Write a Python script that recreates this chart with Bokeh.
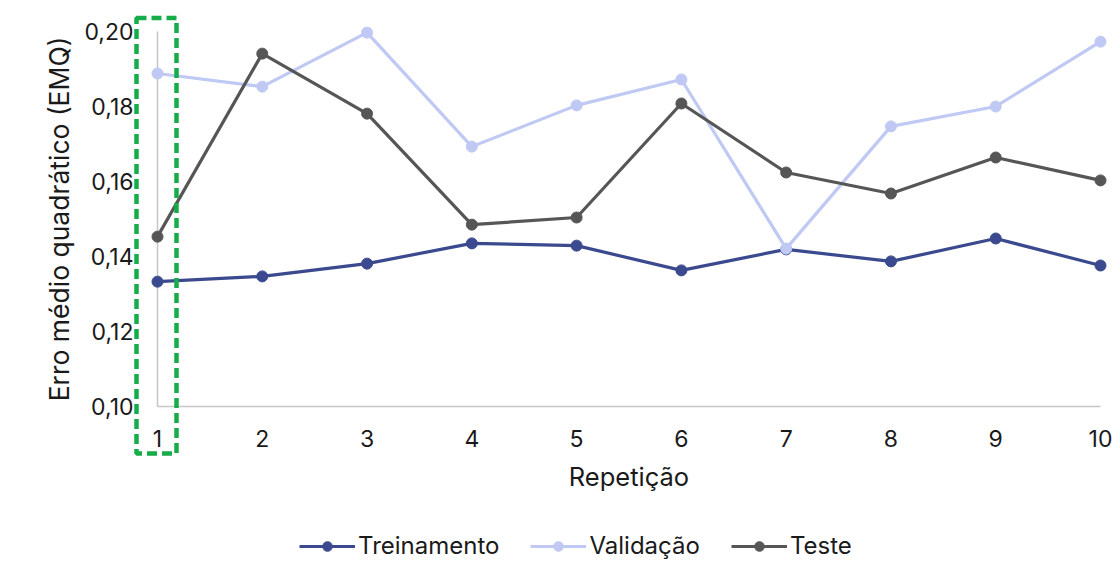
import math
from bokeh.plotting import figure
from bokeh.models import Range1d, Legend, LegendItem, BoxAnnotation
from bokeh.core.properties import value
from bokeh.embed import file_html
from bokeh.resources import INLINE

repeticao = [1, 2, 3, 4, 5, 6, 7, 8, 9, 10]
treinamento = [0.1333, 0.1347, 0.1381, 0.1435, 0.1429, 0.1363, 0.1419, 0.1387, 0.1448, 0.1376]
validacao = [0.1888, 0.1853, 0.1997, 0.1693, 0.1803, 0.1872, 0.1421, 0.1747, 0.1800, 0.1973]
teste = [0.1453, 0.1941, 0.1781, 0.1485, 0.1504, 0.1808, 0.1624, 0.1568, 0.1664, 0.1603]
y_ticks = [0.10, 0.12, 0.14, 0.16, 0.18, 0.20]
y_tick_labels = ["0,10", "0,12", "0,14", "0,16", "0,18", "0,20"]
x_tick_labels = [str(v) for v in repeticao]
series_names = ["Treinamento", "Validação", "Teste"]
x_title = "Repetição"
y_title = "Erro médio quadrático (EMQ)"
highlight_rep = 1

FONT = "Inter"
TXT = "#1a1a1a"
colors = ["#3b4a8e", "#bfc9f4", "#565656"]

# canvas / plot-area layout (pixels)
W, H = 1112, 562
PX_LEFT, PX_RIGHT = 157, 1100     # x = first / last repetition
PX_TOP, PX_BOTTOM = 31, 406       # y = top / bottom tick
x0, x1 = repeticao[0], repeticao[-1]
y0, y1 = y_ticks[0], y_ticks[-1]
sx = (PX_RIGHT - PX_LEFT) / (x1 - x0)
sy = (PX_BOTTOM - PX_TOP) / (y1 - y0)
xr = Range1d(x0 - PX_LEFT / sx, x0 + (W - PX_LEFT) / sx)
yr = Range1d(y0 - (H - PX_BOTTOM) / sy, y1 + PX_TOP / sy)

p = figure(width=W, height=H, output_backend="svg", toolbar_location=None,
           x_range=xr, y_range=yr, min_border=0)
p.axis.visible = False
p.grid.visible = False
p.outline_line_color = None
p.background_fill_color = "white"
p.border_fill_color = "white"

# axis lines
p.segment(x0=[x0, x0], y0=[y0, y0], x1=[x1, x0], y1=[y0, y1], line_color="#c6c6c6", line_width=1.5)

# tick labels
p.text(x=[x0] * len(y_ticks), y=y_ticks, text=y_tick_labels, x_offset=-24,
       text_align="right", text_baseline="middle", text_font=value(FONT),
       text_font_size="23px", text_color=TXT)
p.text(x=repeticao, y=[y0] * len(repeticao), text=x_tick_labels, y_offset=32,
       text_align="center", text_baseline="middle", text_font=value(FONT),
       text_font_size="23px", text_color=TXT)
# axis titles
p.text(x=[(x0 + x1) / 2], y=[y0], text=[x_title], y_offset=70,
       text_align="center", text_baseline="middle", text_font=value(FONT),
       text_font_size="25.5px", text_color=TXT)
p.text(x=[x0], y=[(y0 + y1) / 2], text=[y_title], x_offset=-99, angle=math.pi / 2,
       text_align="center", text_baseline="middle", text_font=value(FONT),
       text_font_size="26.5px", text_color=TXT)

items = []
for name, vals, c in zip(series_names, [treinamento, validacao, teste], colors):
    ln = p.line(repeticao, vals, line_color=c, line_width=3.2)
    sc = p.scatter(repeticao, vals, size=11, fill_color=c, line_color=c)
    items.append(LegendItem(label=name, renderers=[ln, sc]))

legend = Legend(items=items, orientation="horizontal", location=(299, 2),
                border_line_color=None, background_fill_alpha=0, padding=0, margin=0,
                glyph_width=56, glyph_height=24, label_standoff=3, spacing=31,
                label_text_font=FONT, label_text_font_size="24px", label_text_color=TXT)
p.add_layout(legend, "center")

box = BoxAnnotation(left=highlight_rep - 21 / sx, right=highlight_rep + 19 / sx,
                    top=y1 + 13.5 / sy, bottom=y0 - 47 / sy,
                    fill_alpha=0, line_color="#16ac4a", line_alpha=1.0,
                    line_width=4.5, line_dash="10 5")
p.add_layout(box)

open("out.html", "w").write(file_html(p, INLINE))
